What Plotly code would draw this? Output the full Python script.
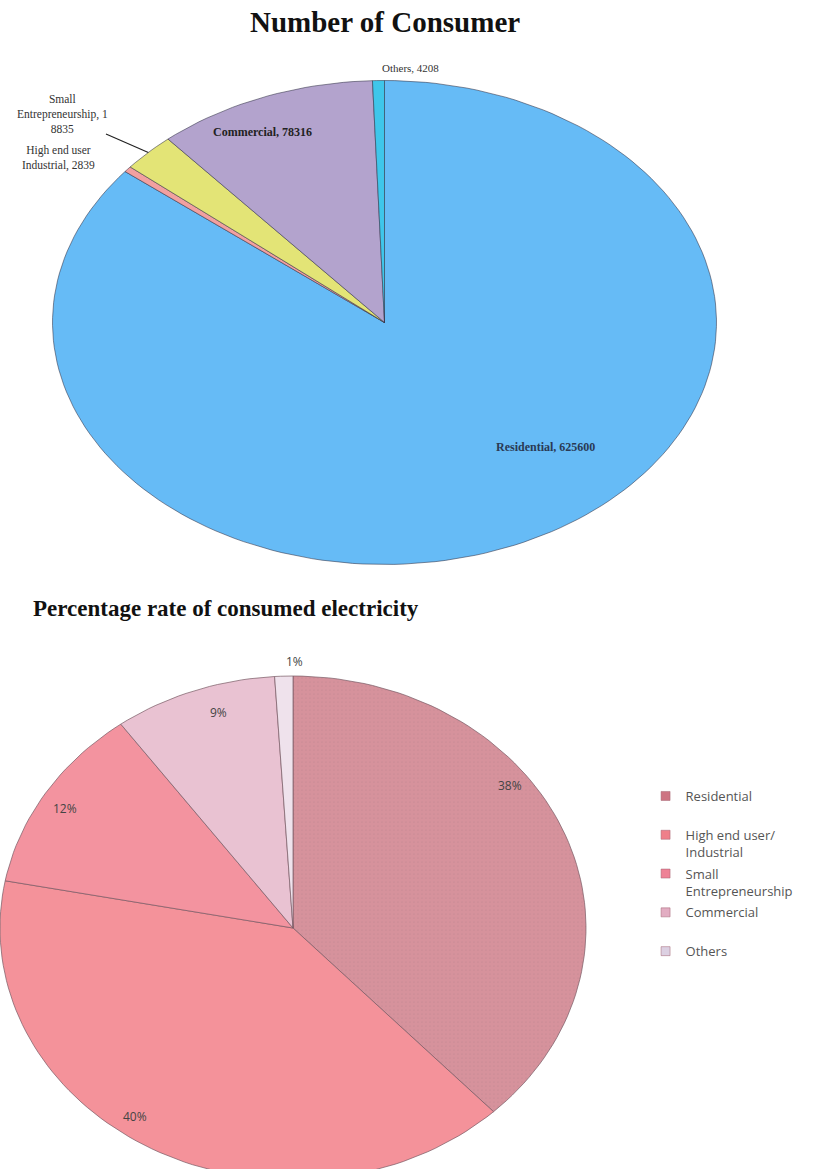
import numpy as np
import plotly.graph_objects as go

# ---------------- data ----------------
consumer_labels = ["Residential", "High end user Industrial", "Small Entrepreneurship", "Commercial", "Others"]
consumer_values = [625600, 2839, 18835, 78316, 4208]

pct_labels = ["Residential", "High end user/ Industrial", "Small Entrepreneurship", "Commercial", "Others"]
pct_values = [38, 40, 12, 9, 1]

# ---------------- styles / layout ----------------
W, H = 833, 1169
consumer_colors = ["#66bbf6", "#f2a0a0", "#e3e476", "#b3a3cd", "#3fc6ea"]
pct_colors = ["#d6929c", "#f4929a", "#f3939f", "#e9c2d2", "#efe2ec"]
legend_colors = ["#cd7482", "#ef7f8a", "#ee8296", "#e2adc2", "#dcd0e2"]
legend_names = ["Residential<br> ", "High end user/<br>Industrial", "Small<br>Entrepreneurship",
                "Commercial<br> ", "Others"]

TOP = dict(cx=384.5, cy=322.5, rx=332, ry=242)
BOT = dict(cx=293, cy=928, rx=293, ry=252)


def slices(values, cx, cy, rx, ry, n=200):
    v = np.asarray(values, dtype=float)
    cum = np.concatenate([[0], np.cumsum(v)]) / v.sum() * 2 * np.pi
    out = []
    for a0, a1 in zip(cum[:-1], cum[1:]):
        k = max(3, int(n * (a1 - a0) / (2 * np.pi)) + 3)
        t = np.linspace(a0, a1, k)
        xs = np.concatenate([[cx], cx + rx * np.sin(t), [cx]])
        ys = np.concatenate([[cy], cy - ry * np.cos(t), [cy]])
        out.append((xs, ys, (a0 + a1) / 2))
    return out


fig = go.Figure()

# top pie (ellipse)
top_sl = slices(consumer_values, **TOP)
for (xs, ys, mid), name, col in zip(top_sl, consumer_labels, consumer_colors):
    fig.add_trace(go.Scatter(x=xs, y=ys, mode="lines", fill="toself", fillcolor=col,
                             line=dict(color="rgba(50,50,70,0.55)", width=1),
                             name=name, showlegend=False, hoverinfo="name"))

# bottom pie (ellipse)
bot_sl = slices(pct_values, **BOT)
for i, ((xs, ys, mid), name, col) in enumerate(zip(bot_sl, pct_labels, pct_colors)):
    kw = {}
    if i == 0:
        kw["fillpattern"] = dict(shape=".", fgcolor="#bf8690", bgcolor=col, size=4, solidity=0.15)
    fig.add_trace(go.Scatter(x=xs, y=ys, mode="lines", fill="toself", fillcolor=col,
                             line=dict(color="rgba(120,90,100,0.7)", width=1),
                             name=name, legendgroup=f"g{i}", showlegend=False,
                             hoverinfo="name", **kw))

# legend entries (square swatches)
for i, (lname, lcol) in enumerate(zip(legend_names, legend_colors)):
    fig.add_trace(go.Scatter(x=[None], y=[None], mode="markers", name=lname,
                             legendgroup=f"g{i}", showlegend=True,
                             marker=dict(symbol="square", size=9, color=lcol,
                                         line=dict(color="#a06070", width=0.5))))

ann = []
serif = "Liberation Serif"
sans = "Open Sans"

# titles
ann.append(dict(x=385, y=22, text="<b>Number of Consumer</b>",
                font=dict(family=serif, size=29, color="#111")))
ann.append(dict(x=226, y=608, text="<b>Percentage rate of consumed electricity</b>",
                font=dict(family=serif, size=23, color="#111")))

# top labels
cv = dict(zip(consumer_labels, consumer_values))
ann.append(dict(x=410, y=68, text=f"Others, {cv['Others']}",
                font=dict(family=serif, size=11, color="#333")))
ann.append(dict(x=262, y=132, text=f"<b>Commercial, {cv['Commercial']}</b>",
                font=dict(family=serif, size=12, color="#222")))
s = str(cv["Small Entrepreneurship"])
ann.append(dict(x=62, y=114, text=f"Small<br>Entrepreneurship, {s[:1]}<br>{s[1:]}",
                font=dict(family=serif, size=11.5, color="#333")))
ann.append(dict(x=58, y=158, text=f"High end user<br>Industrial, {cv['High end user Industrial']}",
                font=dict(family=serif, size=11.5, color="#333")))
ann.append(dict(x=545, y=447, text=f"<b>Residential, {cv['Residential']}</b>",
                font=dict(family=serif, size=12, color="#2a3a55")))

# leader line for Small Entrepreneurship, endpoint from slice mid-angle
mid = top_sl[2][2]
ex = TOP["cx"] + TOP["rx"] * np.sin(mid)
ey = TOP["cy"] - TOP["ry"] * np.cos(mid)

# bottom labels
pv = dict(zip(pct_labels, pct_values))
bot_pos = {"Residential": (510, 785), "High end user/ Industrial": (135, 1116),
           "Small Entrepreneurship": (65, 808), "Commercial": (218, 712), "Others": (294, 661)}
for k, (x, y) in bot_pos.items():
    ann.append(dict(x=x, y=y, text=f"{pv[k]}%", font=dict(family=sans, size=12, color="#444")))

for a in ann:
    a.update(xref="x", yref="y", showarrow=False)

fig.update_layout(
    width=W, height=H, margin=dict(l=0, r=0, t=0, b=0),
    paper_bgcolor="white", plot_bgcolor="white",
    xaxis=dict(range=[0, W], visible=False, fixedrange=True),
    yaxis=dict(range=[H, 0], visible=False, fixedrange=True),
    annotations=ann,
    shapes=[dict(type="line", xref="x", yref="y", x0=106, y0=134, x1=ex, y1=ey,
                 line=dict(color="#222", width=1.2))],
    legend=dict(x=0.775, y=1 - 781 / H, xanchor="left", yanchor="top",
                font=dict(family=sans, size=13, color="#555"),
                bgcolor="rgba(0,0,0,0)", valign="top", tracegroupgap=2,
                itemwidth=30),
    showlegend=True,
)

fig.write_html("out.html")
